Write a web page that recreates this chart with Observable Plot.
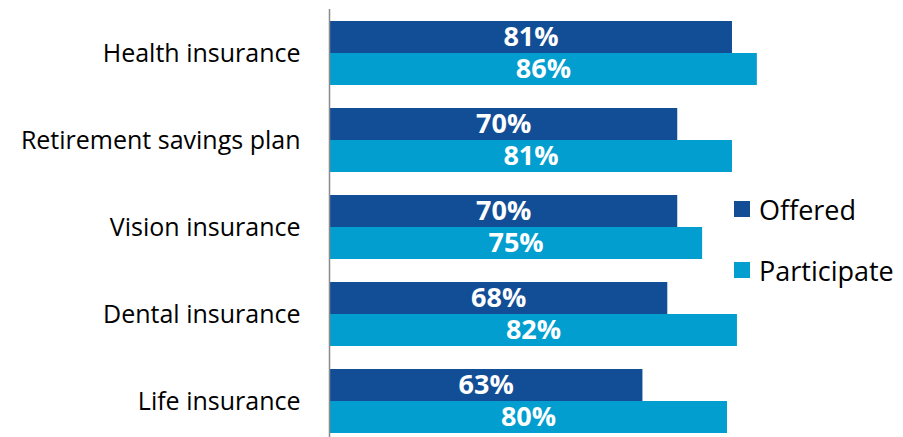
<!DOCTYPE html>
<html>
<head>
<meta charset="utf-8">
<script src="https://cdn.jsdelivr.net/npm/d3@7"></script>
<script src="https://cdn.jsdelivr.net/npm/@observablehq/plot@0.6"></script>
<style>
  html, body { margin: 0; padding: 0; background: #fff; }
  #wrap { position: relative; width: 903px; height: 437px; font-family: 'Open Sans', sans-serif; }
  .leg { position: absolute; display: flex; align-items: center; font-size: 27px; color: #000; line-height: 1; }
  .sw { width: 16px; height: 16px; margin-right: 9px; }
</style>
</head>
<body>
<div id="wrap"></div>
<script>
const categories = ["Health insurance", "Retirement savings plan", "Vision insurance", "Dental insurance", "Life insurance"];
const offered = [81, 70, 70, 68, 63];
const participate = [86, 81, 75, 82, 80];
const seriesNames = ["Offered", "Participate"];
const seriesColors = ["#124E96", "#019ECF"];

const rows = categories.map((c, i) => ({category: c, offered: offered[i], participate: participate[i]}));

const chart = Plot.plot({
  width: 903,
  height: 437,
  marginLeft: 329,
  marginRight: 76.5,
  marginTop: 9,
  marginBottom: 0,
  x: {domain: [0, 100], axis: null},
  y: {domain: categories, paddingInner: 23.25 / 87.25, paddingOuter: 7.5 / 87.25, align: 11 / 15, label: null},
  style: {fontFamily: "'Open Sans', sans-serif", fontSize: "22px", color: "#000", background: "#fff"},
  marks: [
    Plot.barX(rows, {x: "offered", y: "category", fill: seriesColors[0], insetBottom: 32}),
    Plot.barX(rows, {x: "participate", y: "category", fill: seriesColors[1], insetTop: 32}),
    Plot.text(rows, {x: d => d.offered / 2, y: "category", text: d => d.offered + "%", dy: -16, fill: "white", fontWeight: "bold", fontSize: 27}),
    Plot.text(rows, {x: d => d.participate / 2, y: "category", text: d => d.participate + "%", dy: 16, fill: "white", fontWeight: "bold", fontSize: 27}),
    Plot.axisY({tickSize: 0, tickPadding: 29, fontSize: 25, fill: "#000", label: null}),
    Plot.ruleX([0], {stroke: "#8a8a8a", strokeWidth: 1.5})
  ]
});

const wrap = document.getElementById("wrap");
wrap.appendChild(chart);

const legendTops = [193, 254];
seriesNames.forEach((name, i) => {
  const item = document.createElement("div");
  item.className = "leg";
  item.style.left = "734px";
  item.style.top = legendTops[i] + "px";
  item.style.height = "32px";
  const sw = document.createElement("div");
  sw.className = "sw";
  sw.style.background = seriesColors[i];
  const label = document.createElement("span");
  label.textContent = name;
  item.appendChild(sw);
  item.appendChild(label);
  wrap.appendChild(item);
});
</script>
</body>
</html>
